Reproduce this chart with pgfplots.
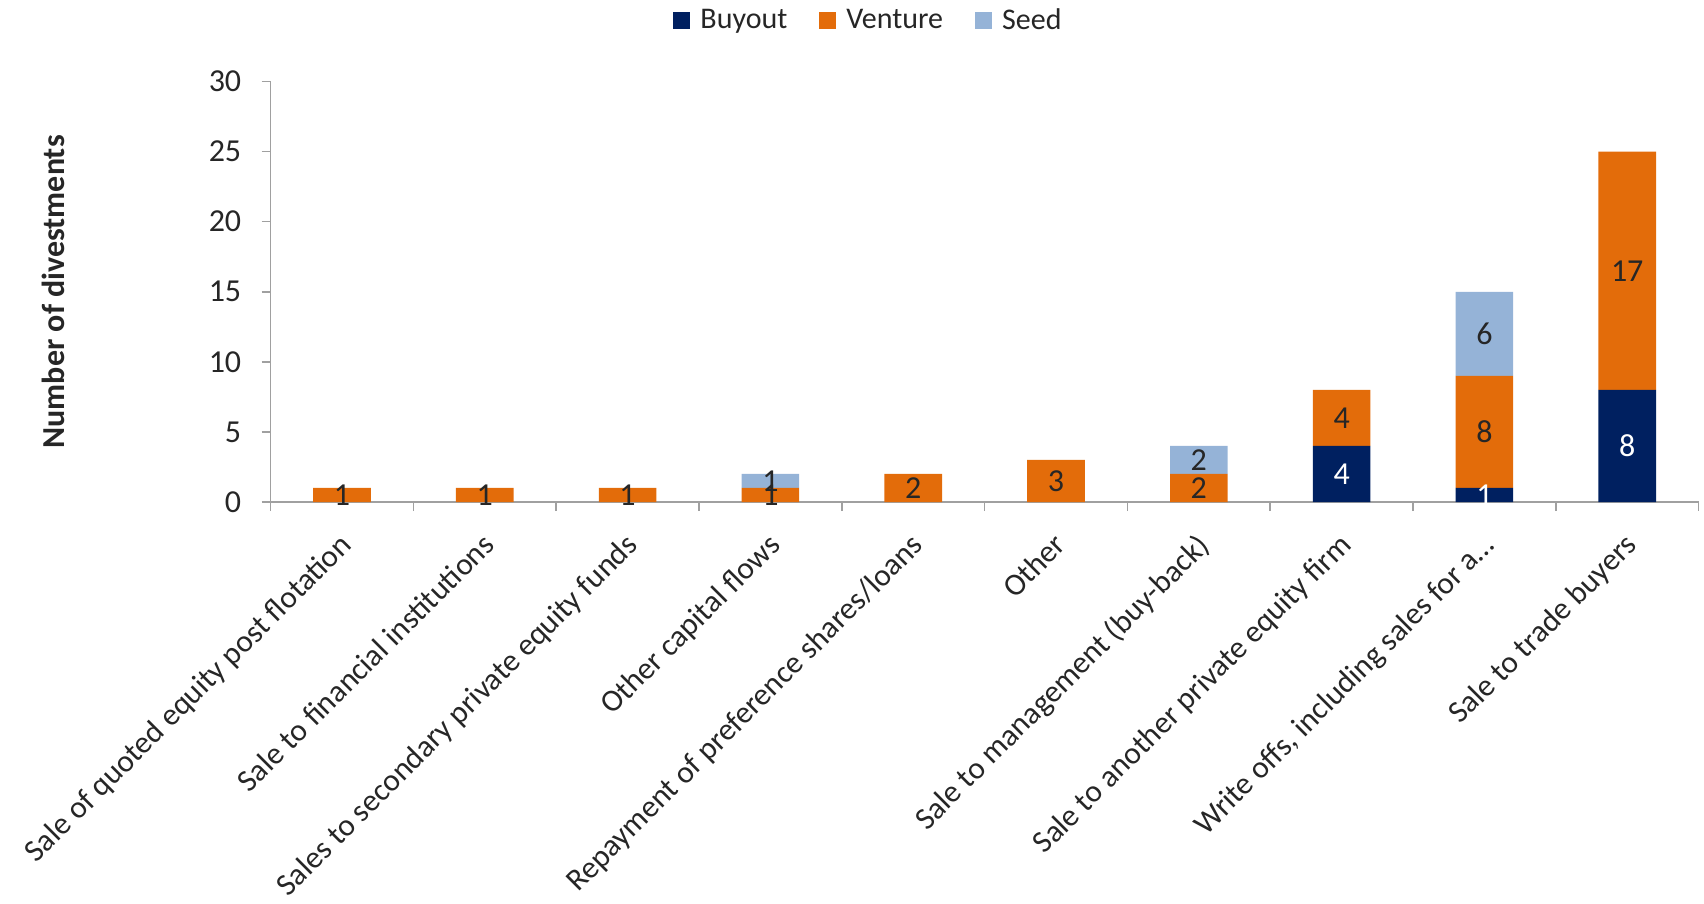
\documentclass[border=0pt]{standalone}
\usepackage{pgfplots}
\pgfplotsset{compat=1.18}
\usepackage{pgfplotstable}
\usepackage{fontspec}
\setmainfont{Carlito}
\definecolor{buy}{RGB}{0,32,96}
\definecolor{ven}{RGB}{227,108,10}
\definecolor{seed}{RGB}{149,179,215}
\definecolor{txt}{RGB}{38,38,38}
\definecolor{axg}{RGB}{160,160,160}

\pgfplotstableread{
x B V S
0 0 1 0
1 0 1 0
2 0 1 0
3 0 1 1
4 0 2 0
5 0 3 0
6 0 2 2
7 4 4 0
8 1 8 6
9 8 17 0
}\data

% label positions (segment middles) for the data labels
\pgfplotstableread{
x y lab
0 0.5 1
1 0.5 1
2 0.5 1
3 0.5 1
3 1.5 1
4 1 2
5 1.5 3
6 1 2
6 3 2
7 6 4
8 5 8
8 12 6
9 16.5 17
}\darklabs

\pgfplotstableread{
x y lab
7 2 4
8 0.5 1
9 4 8
}\whitelabs

\pgfplotsset{common/.style={
  scale only axis, width=714pt, height=210.25pt,
  xmin=-0.5, xmax=9.5, ymin=0, ymax=30}}

\begin{document}
\begin{tikzpicture}
\useasboundingbox (-135.3pt,-201pt) rectangle (716.7pt,251pt);
\begin{axis}[
  common,
  ybar stacked, bar width=28.8pt,
  ytick={0,5,...,30},
  xtick={0,...,9},
  xticklabels={Sale of quoted equity post flotation, Sale to financial institutions, Sales to secondary private equity funds, Other capital flows, Repayment of preference shares/loans, Other, Sale to management (buy-back), Sale to another private equity firm, {Write offs, including sales for a…}, Sale to trade buyers},
  minor xtick={-0.5,0.5,...,9.5},
  axis lines=left,
  axis line style={-, draw=axg, line width=0.75pt},
  tick align=outside,
  major tick length=4.5pt, minor tick length=4.5pt,
  major x tick style={draw=none},
  every tick/.style={draw=axg, line width=0.75pt},
  minor x tick style={draw=axg, line width=0.75pt},
  /pgf/number format/assume math mode=true,
  ticklabel style={font=\fontsize{16}{19}\selectfont, text=txt},
  yticklabel style={anchor=east, inner sep=0pt, xshift=-10pt},
  xticklabel style={font=\fontsize{15.6}{19}\selectfont, yshift=-10pt, xshift=-2pt, rotate=45, anchor=north east, inner sep=0pt},
  ylabel={Number of divestments},
  ylabel style={font=\bfseries\fontsize{16}{19}\selectfont, text=txt, at={(axis description cs:-0.152,0.5)}, anchor=center},
  legend style={at={(axis description cs:0.4194,1.146)}, anchor=center, legend columns=-1, draw=none, fill=none, font=\fontsize{15}{18}\selectfont, text=txt,
    /tikz/every odd column/.append style={column sep=3pt},
    /tikz/every even column/.append style={column sep=14pt}},
  legend image code/.code={\fill[#1] (0pt,-4.25pt) rectangle (8.5pt,4.25pt);},
]
\addplot[fill=buy, draw=none] table[x=x,y=B]{\data};
\addplot[fill=ven, draw=none] table[x=x,y=V]{\data};
\addplot[fill=seed, draw=none] table[x=x,y=S]{\data};
\legend{Buyout,Venture,Seed}
\end{axis}
\begin{axis}[
  common, hide axis,
  nodes near coords, point meta=explicit symbolic,
  every node near coord/.append style={anchor=center, inner sep=0pt, font=\fontsize{16}{19}\selectfont},
]
\addplot[draw=none, mark=none, nodes near coords style={text=txt}] table[x=x,y=y,meta=lab]{\darklabs};
\addplot[draw=none, mark=none, nodes near coords style={text=white}] table[x=x,y=y,meta=lab]{\whitelabs};
\end{axis}
\end{tikzpicture}
\end{document}
